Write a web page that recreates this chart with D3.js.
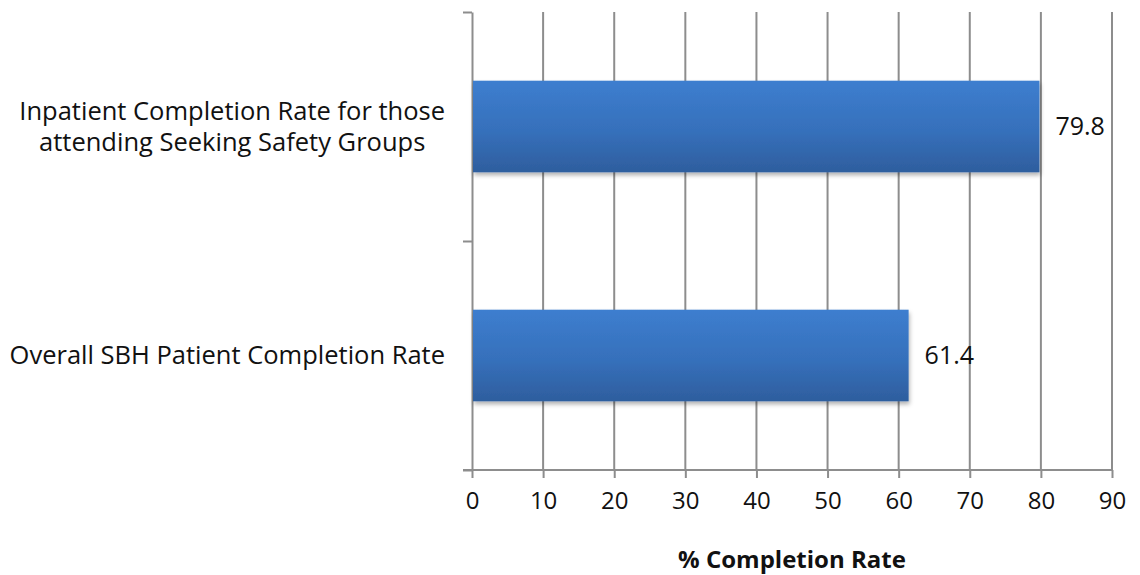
<!DOCTYPE html>
<html>
<head>
<meta charset="utf-8">
<script src="https://cdn.jsdelivr.net/npm/d3@7"></script>
<style>
  html, body { margin: 0; padding: 0; background: #fff; }
  svg { display: block; font-family: "Open Sans", sans-serif; }
</style>
</head>
<body>
<svg id="chart" width="1140" height="575"></svg>
<script>
const categories = [
  ["Inpatient Completion Rate for those", "attending Seeking Safety Groups"],
  ["Overall SBH Patient Completion Rate"]
];
const categoryKeys = ["inpatient", "overall"];
const values = [79.8, 61.4];
const valueLabels = ["79.8", "61.4"];
const xTicks = [0, 10, 20, 30, 40, 50, 60, 70, 80, 90];
const xTitle = "% Completion Rate";

(function () {
const svg = d3.select("#chart");
const mLeft = 472, mRight = 1112, mTop = 12, mBottom = 470;
const gridColor = "#8d8d8d";

const x = d3.scaleLinear().domain([0, 90]).range([mLeft, mRight]);
const y = d3.scaleBand().domain(categoryKeys).range([mTop, mBottom])
  .paddingInner(0.6).paddingOuter(0.3);
const yEdges = d3.scaleLinear().domain([0, categoryKeys.length]).range([mTop, mBottom]);

const defs = svg.append("defs");
const grad = defs.append("linearGradient").attr("id", "barGrad")
  .attr("x1", 0).attr("y1", 0).attr("x2", 0).attr("y2", 1);
grad.append("stop").attr("offset", "0%").attr("stop-color", "#3d7ecf");
grad.append("stop").attr("offset", "55%").attr("stop-color", "#3670bb");
grad.append("stop").attr("offset", "100%").attr("stop-color", "#2e5e9e");
const filt = defs.append("filter").attr("id", "shadow")
  .attr("x", "-5%").attr("y", "-10%").attr("width", "110%").attr("height", "130%");
filt.append("feDropShadow").attr("dx", 1).attr("dy", 3).attr("stdDeviation", 2)
  .attr("flood-color", "#000").attr("flood-opacity", 0.3);

// gridlines
svg.append("g").selectAll("line").data(xTicks.slice(1)).join("line")
  .attr("x1", d => x(d)).attr("x2", d => x(d))
  .attr("y1", mTop).attr("y2", mBottom)
  .attr("stroke", gridColor).attr("stroke-width", 2);

// x axis
const xAxis = svg.append("g").attr("transform", `translate(0,${mBottom})`)
  .call(d3.axisBottom(x).tickValues(xTicks).tickSize(8).tickSizeOuter(0).tickPadding(14));
xAxis.select(".domain").remove();
xAxis.selectAll(".tick line").attr("stroke", gridColor).attr("stroke-width", 2);
xAxis.selectAll(".tick text").attr("font-size", 24).attr("fill", "#111")
  .attr("font-family", "'Open Sans', sans-serif");
svg.append("line").attr("x1", mLeft - 9).attr("x2", mRight)
  .attr("y1", mBottom).attr("y2", mBottom).attr("stroke", gridColor).attr("stroke-width", 2);

// y axis
const yAxis = svg.append("g").attr("transform", `translate(${mLeft},0)`)
  .call(d3.axisLeft(yEdges).ticks(categoryKeys.length).tickSize(9).tickSizeOuter(0).tickFormat(""));
yAxis.select(".domain").attr("stroke", gridColor).attr("stroke-width", 2);
yAxis.selectAll(".tick line").attr("stroke", gridColor).attr("stroke-width", 2);

// bars
svg.append("g").selectAll("rect").data(values).join("rect")
  .attr("x", x(0) + 1)
  .attr("y", (d, i) => y(categoryKeys[i]))
  .attr("width", d => x(d) - x(0) - 1)
  .attr("height", y.bandwidth())
  .attr("fill", "url(#barGrad)")
  .attr("filter", "url(#shadow)");

// value labels
svg.append("g").selectAll("text").data(values).join("text")
  .attr("x", d => x(d) + 16)
  .attr("y", (d, i) => y(categoryKeys[i]) + y.bandwidth() / 2)
  .attr("dy", "0.35em")
  .attr("font-size", 25).attr("fill", "#111")
  .text((d, i) => valueLabels[i]);

// category labels
const labelRight = 445, lineH = 31;
categories.forEach((lines, i) => {
  const cy = y(categoryKeys[i]) + y.bandwidth() / 2;
  const t = svg.append("text").attr("font-size", 25.5).attr("fill", "#111")
    .attr("text-anchor", "middle");
  lines.forEach((ln, j) => {
    t.append("tspan").attr("x", 0)
      .attr("y", cy + (j - (lines.length - 1) / 2) * lineH)
      .attr("dy", "0.35em").text(ln);
  });
  let maxW = 0;
  t.selectAll("tspan").each(function() { maxW = Math.max(maxW, this.getComputedTextLength()); });
  t.selectAll("tspan").attr("x", labelRight - maxW / 2);
});

// x title
svg.append("text").attr("x", (mLeft + mRight) / 2).attr("y", 560).attr("dy", "0.35em")
  .attr("text-anchor", "middle").attr("font-size", 24).attr("font-weight", "bold")
  .attr("fill", "#111").text(xTitle);
})();
</script>
</body>
</html>
